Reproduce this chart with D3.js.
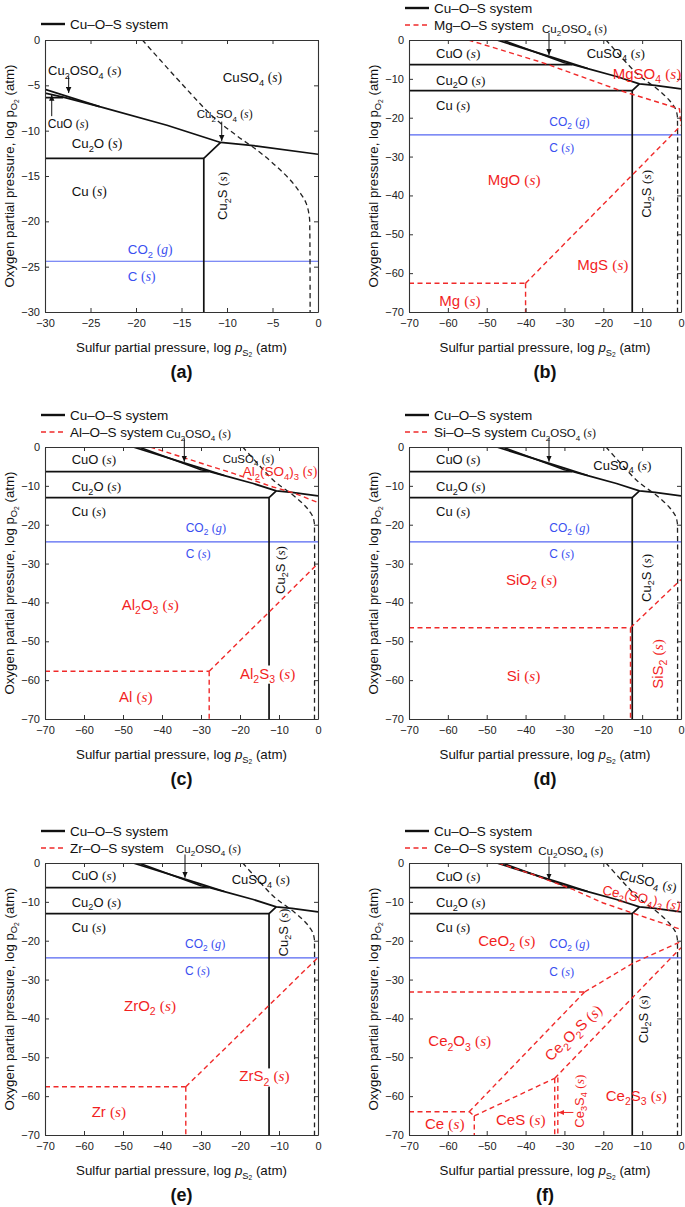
<!DOCTYPE html>
<html><head><meta charset="utf-8">
<script src="https://cdn.jsdelivr.net/npm/d3@7"></script>
<style>body{margin:0;background:#fff}</style>
</head><body>
<svg id="c" width="685" height="1207" xmlns="http://www.w3.org/2000/svg"></svg>
<script>
// ---------------- DATA (log pS2, log pO2) ----------------
const ticks30 = [-30, -25, -20, -15, -10, -5, 0];
const ticks70 = [-70, -60, -50, -40, -30, -20, -10, 0];

// Cu–O–S system
const cuSulfateBoundary = [[-47.4,0],[-30,-5.45],[-24,-7.35],[-16.6,-9.4],[-10.7,-11.3],[-6.7,-11.7],[0,-12.6]];
const cuOxysulfateBoundary = [[-46.0,0],[-30,-5.85],[-28,-6.3],[-24,-7.35]];
const cuOCu2OBoundary = [[-70,-6.35],[-28,-6.35]];
const cuCu2OBoundary = [[-70,-13.05],[-12.55,-13.05]];
const cu2SBoundary = [[-12.55,-70],[-12.55,-13.05],[-10.7,-11.3]];
const cuSO4DashedBoundary = [[-19.3,0],[-15,-4.8],[-11.5,-8.5],[-9,-10.5],[-6.5,-12.3],[-4.5,-14],[-3,-15.5],[-2,-16.8],[-1.3,-18],[-0.95,-19.5],[-0.9,-21],[-0.9,-70]];
const co2CLevel = -24.4;

// M–O–S systems (red dashed)
const mgLines = [
  [[-54.7,0],[-36,-5.7],[-15.7,-13],[-0.4,-17.7],[0,-22]],
  [[-70,-62.6],[-40,-62.6]],
  [[-40,-62.6],[-40,-70]],
  [[-40,-62.6],[0,-22]]
];
const alLines = [
  [[-43,0],[-33,-3.2],[-21.7,-6.8],[-11.5,-10.3],[-6.3,-11.8],[0,-14.3]],
  [[-70,-57.7],[-27.9,-57.7]],
  [[-27.9,-57.7],[-27.9,-70]],
  [[-27.9,-57.7],[0,-30]]
];
const siLines = [
  [[-70,-46.5],[-13.0,-46.5]],
  [[-13.0,-46.5],[-13.0,-70]],
  [[-13.0,-46.5],[0,-34.1]]
];
const zrLines = [
  [[-70,-57.6],[-33.9,-57.6]],
  [[-33.9,-57.6],[-33.9,-70]],
  [[-33.9,-57.6],[0,-24.3]]
];
const ceLines = [
  [[-47,0],[-38,-3.0],[-27.8,-6.8],[-20,-10.3],[-12.4,-12.9],[-0.3,-17]],
  [[-70,-33.2],[-24.8,-33.2]],
  [[-24.8,-33.2],[-12.4,-25.8],[0,-20.2]],
  [[-24.8,-33.2],[-54.5,-64.0]],
  [[-70,-64.0],[-54.5,-64.0],[-53.2,-65.1]],
  [[-53.2,-65.1],[-53.2,-70]],
  [[-53.2,-65.1],[-32.5,-55.4]],
  [[-32.5,-55.4],[-8.1,-30.1],[0,-21.8]],
  [[-32.5,-55.4],[-32.5,-70]],
  [[-31.7,-55.2],[-31.7,-70]]
];

// ---------------- STYLE / LAYOUT ----------------
const SANS = "'Liberation Sans', Arial, Helvetica, sans-serif";
const SERIF = "'Liberation Serif', 'Times New Roman', serif";
const COL = {k:'#111', r:'#f21f1f', b:'#3a4ff0'};
const LINE_RED = '#f02a2a', LINE_BLUE = '#5566f2';

const panels = [
 {key:'a', left:45, top:40, w:273, h:272, xDom:[-30,0], yDom:[-30,0], xT:ticks30, yT:ticks30, sys:null, sysName:null,
  labels:[
   {t:'Cu_{2}OSO_{4} [s]', x:-29.67, y:-3.39, fs:13},
   {t:'CuO [s]', x:-29.7, y:-9.19, fs:12},
   {t:'CuSO_{4} [s]', x:-10.47, y:-4.11, fs:13.3},
   {t:'Cu_{2}SO_{4} [s]', x:-13.33, y:-8.2, fs:11.5},
   {t:'Cu_{2}O [s]', x:-27.07, y:-11.39, fs:13.3},
   {t:'Cu [s]', x:-27.07, y:-16.73, fs:13.3},
   {t:'Cu_{2}S [s]', x:-10.5, y:-17.2, fs:13, rot:-90},
   {t:'CO_{2} [g]', x:-20.9, y:-23.08, fs:13.3, c:'b'},
   {t:'C [s]', x:-20.9, y:-26.1, fs:13.3, c:'b'}
  ],
  arrows:[{x1:-27.4,y1:-4.0,x2:-27.4,y2:-5.85},{x1:-29.26,y1:-8.4,x2:-29.26,y2:-6.05},{x1:-10.58,y1:-9.0,x2:-10.58,y2:-11.15}]},
 {key:'b', left:409, top:40, w:272, h:272, xDom:[-70,0], yDom:[-70,0], xT:ticks70, yT:ticks70, sys:mgLines, sysName:'Mg–O–S system',
  labels:[
   {t:'CuO [s]', x:-63.05, y:-3.42, fs:13},
   {t:'Cu_{2}O [s]', x:-63.05, y:-10.29, fs:13},
   {t:'Cu [s]', x:-63.05, y:-16.73, fs:13},
   {t:'Cu_{2}OSO_{4} [s]', x:-35.77, y:2.83, fs:11.5},
   {t:'CuSO_{4} [s]', x:-24.27, y:-3.42, fs:13},
   {t:'MgSO_{4} [s]', x:-17.58, y:-8.75, fs:15, c:'r'},
   {t:'CO_{2} [g]', x:-33.9, y:-21.02, fs:12, c:'b'},
   {t:'C [s]', x:-33.9, y:-27.87, fs:12, c:'b'},
   {t:'MgO [s]', x:-49.75, y:-36.03, fs:15, c:'r'},
   {t:'MgS [s]', x:-26.69, y:-57.9, fs:15, c:'r'},
   {t:'Mg [s]', x:-62.2, y:-67.2, fs:15, c:'r'},
   {t:'Cu_{2}S [s]', x:-9.01, y:-39.6, fs:13, rot:-90}
  ],
  arrows:[{x1:-33.97,y1:1.8,x2:-33.97,y2:-3.86}]},
 {key:'c', left:45, top:447, w:273, h:272, xDom:[-70,0], yDom:[-70,0], xT:ticks70, yT:ticks70, sys:alLines, sysName:'Al–O–S system',
  labels:[
   {t:'CuO [s]', x:-63.15, y:-3.17, fs:13},
   {t:'Cu_{2}O [s]', x:-63.15, y:-10.2, fs:13},
   {t:'Cu [s]', x:-63.15, y:-16.65, fs:13},
   {t:'Cu_{2}OSO_{4} [s]', x:-38.97, y:3.35, fs:11.5},
   {t:'CuSO_{4} [s]', x:-24.44, y:-3.09, fs:11.5},
   {t:'Al_{2}(SO_{4})_{3} [s]', x:-19.3, y:-6.36, fs:13.5, c:'r'},
   {t:'CO_{2} [g]', x:-33.92, y:-20.77, fs:12, c:'b'},
   {t:'C [s]', x:-33.92, y:-27.61, fs:12, c:'b'},
   {t:'Al_{2}O_{3} [s]', x:-50.33, y:-40.48, fs:15, c:'r'},
   {t:'Al_{2}S_{3} [s]', x:-20.0, y:-58.23, fs:15, c:'r', bg:true},
   {t:'Al [s]', x:-51.03, y:-64.26, fs:15, c:'r'},
   {t:'Cu_{2}S [s]', x:-9.74, y:-31.65, fs:13, rot:-90}
  ],
  arrows:[{x1:-34.28,y1:2.2,x2:-34.28,y2:-3.8}]},
 {key:'d', left:409, top:447, w:272, h:272, xDom:[-70,0], yDom:[-70,0], xT:ticks70, yT:ticks70, sys:siLines, sysName:'Si–O–S system',
  labels:[
   {t:'CuO [s]', x:-63.05, y:-3.17, fs:13},
   {t:'Cu_{2}O [s]', x:-63.05, y:-10.2, fs:13},
   {t:'Cu [s]', x:-63.05, y:-16.65, fs:13},
   {t:'Cu_{2}OSO_{4} [s]', x:-38.6, y:3.53, fs:11.5},
   {t:'CuSO_{4} [s]', x:-22.57, y:-4.63, fs:13},
   {t:'CO_{2} [g]', x:-33.9, y:-20.77, fs:12, c:'b'},
   {t:'C [s]', x:-33.9, y:-27.61, fs:12, c:'b'},
   {t:'SiO_{2} [s]', x:-45.04, y:-34.23, fs:15, c:'r'},
   {t:'Si [s]', x:-44.86, y:-58.93, fs:15, c:'r'},
   {t:'SiS_{2} [s]', x:-5.92, y:-55.84, fs:15, c:'r', rot:-90},
   {t:'Cu_{2}S [s]', x:-9.0, y:-33.7, fs:13, rot:-90}
  ],
  arrows:[{x1:-33.97,y1:2.3,x2:-33.97,y2:-3.78}]},
 {key:'e', left:45, top:863, w:273, h:272, xDom:[-70,0], yDom:[-70,0], xT:ticks70, yT:ticks70, sys:zrLines, sysName:'Zr–O–S system',
  labels:[
   {t:'CuO [s]', x:-63.15, y:-3.22, fs:13},
   {t:'Cu_{2}O [s]', x:-63.15, y:-10.09, fs:13},
   {t:'Cu [s]', x:-63.15, y:-16.52, fs:13},
   {t:'Cu_{2}OSO_{4} [s]', x:-36.41, y:3.65, fs:11.5},
   {t:'CuSO_{4} [s]', x:-22.13, y:-4.25, fs:13},
   {t:'CO_{2} [g]', x:-34.1, y:-20.72, fs:12, c:'b'},
   {t:'C [s]', x:-34.1, y:-27.84, fs:12, c:'b'},
   {t:'ZrO_{2} [s]', x:-49.74, y:-36.67, fs:15, c:'r'},
   {t:'ZrS_{2} [s]', x:-20.18, y:-54.86, fs:15, c:'r', bg:true},
   {t:'Zr [s]', x:-58.03, y:-64.13, fs:15, c:'r'},
   {t:'Cu_{2}S [s]', x:-8.97, y:-17.88, fs:13, rot:-90}
  ],
  arrows:[{x1:-34.1,y1:2.19,x2:-34.1,y2:-3.81}]},
 {key:'f', left:409, top:863, w:272, h:272, xDom:[-70,0], yDom:[-70,0], xT:ticks70, yT:ticks70, sys:ceLines, sysName:'Ce–O–S system',
  labels:[
   {t:'CuO [s]', x:-63.05, y:-3.4, fs:13},
   {t:'Cu_{2}O [s]', x:-63.05, y:-10.24, fs:13},
   {t:'Cu [s]', x:-63.05, y:-16.67, fs:13},
   {t:'Cu_{2}OSO_{4} [s]', x:-36.73, y:3.22, fs:11.5},
   {t:'CuSO_{4} [s]', x:-8.42, y:-4.68, fs:13, rot:13},
   {t:'Ce_{2}(SO_{4})_{3} [s]', x:-10.12, y:-8.96, fs:13.5, c:'r', rot:12},
   {t:'CeO_{2} [s]', x:-52.17, y:-20.12, fs:15, c:'r'},
   {t:'CO_{2} [g]', x:-33.9, y:-20.72, fs:12, c:'b'},
   {t:'C [s]', x:-33.9, y:-27.99, fs:12, c:'b'},
   {t:'Ce_{2}O_{3} [s]', x:-65.03, y:-45.86, fs:15, c:'r'},
   {t:'Ce_{2}O_{2}S [s]', x:-27.72, y:-43.7, fs:15, c:'r', rot:-44},
   {t:'Ce [s]', x:-65.88, y:-67.04, fs:15, c:'r'},
   {t:'CeS [s]', x:-47.61, y:-66.0, fs:15, c:'r'},
   {t:'Ce_{2}S_{3} [s]', x:-19.38, y:-59.83, fs:15, c:'r'},
   {t:'Ce_{3}S_{4} [s]', x:-26.25, y:-61.3, fs:13, c:'r', rot:-90},
   {t:'Cu_{2}S [s]', x:-9.78, y:-40.2, fs:13, rot:-90}
  ],
  arrows:[{x1:-33.97,y1:1.67,x2:-33.97,y2:-4.25},{x1:-27.7,y1:-64.2,x2:-31.55,y2:-64.2,red:true}]}
];

// ---------------- RENDER ----------------
const svg = d3.select('#c');
const defs = svg.append('defs');
function marker(id, color){
  defs.append('marker').attr('id',id).attr('viewBox','0 0 10 10').attr('refX',10).attr('refY',5)
    .attr('markerWidth',6).attr('markerHeight',6).attr('markerUnits','userSpaceOnUse').attr('orient','auto')
    .append('path').attr('d','M0,0.5 L10,5 L0,9.5 z').attr('fill',color);
}
marker('arrK','#111'); marker('arrR', LINE_RED);

function rich(textSel, markup, fs){
  const re = /_\{([^}]*)\}|\[([a-z])\]|([^_\[]+)/g;
  let m, shifted = false;
  const sub = fs*0.28;
  while ((m = re.exec(markup))){
    if (m[1] !== undefined){
      textSel.append('tspan').attr('font-size', fs*0.7).attr('dy', shifted ? 0 : sub).text(m[1]);
      shifted = true;
    } else {
      const back = shifted ? -sub : 0; shifted = false;
      if (m[2] !== undefined){
        textSel.append('tspan').attr('dy', back).attr('font-family', SERIF).attr('font-size', fs*1.02).text('(');
        textSel.append('tspan').attr('font-family', SERIF).attr('font-style','italic').attr('font-size', fs*1.02).text(m[2]);
        textSel.append('tspan').attr('font-family', SERIF).attr('font-size', fs*1.02).text(')');
      } else {
        textSel.append('tspan').attr('dy', back).text(m[3]);
      }
    }
  }
}

const panelLetters = {a:'(a)',b:'(b)',c:'(c)',d:'(d)',e:'(e)',f:'(f)'};

panels.forEach(p => {
  const x = d3.scaleLinear().domain(p.xDom).range([p.left, p.left + p.w]);
  const y = d3.scaleLinear().domain(p.yDom).range([p.top + p.h, p.top]);
  const g = svg.append('g');
  const clipId = 'clip-' + p.key;
  defs.append('clipPath').attr('id', clipId).append('rect')
    .attr('x', p.left).attr('y', p.top).attr('width', p.w).attr('height', p.h);
  const plot = g.append('g').attr('clip-path', `url(#${clipId})`);
  const line = d3.line().x(d => x(d[0])).y(d => y(d[1]));
  const curve = d3.line().x(d => x(d[0])).y(d => y(d[1])).curve(d3.curveCatmullRom.alpha(0.5));

  // CO2 / C line
  plot.append('path').attr('d', line([[p.xDom[0], co2CLevel],[p.xDom[1], co2CLevel]]))
    .attr('stroke', LINE_BLUE).attr('stroke-width', 1.2).attr('fill','none');
  // Cu system solid
  [cuSulfateBoundary, cuOxysulfateBoundary, cuOCu2OBoundary, cuCu2OBoundary, cu2SBoundary].forEach(d => {
    plot.append('path').attr('d', line(d)).attr('stroke','#111').attr('stroke-width',1.7)
      .attr('fill','none').attr('stroke-linejoin','round');
  });
  // Cu dashed
  plot.append('path').attr('d', curve(cuSO4DashedBoundary)).attr('stroke','#222').attr('stroke-width',1.3)
    .attr('stroke-dasharray','5,3.5').attr('fill','none');
  // M-O-S system
  if (p.sys){
    p.sys.forEach(d => {
      plot.append('path').attr('d', line(d)).attr('stroke', LINE_RED).attr('stroke-width',1.4)
        .attr('stroke-dasharray','5,3.5').attr('fill','none');
    });
  }

  // axes (inward ticks on all sides)
  const axStyle = s => {
    s.selectAll('.domain').attr('stroke','#333').attr('stroke-width',1.1);
    s.selectAll('.tick line').attr('stroke','#333');
    s.selectAll('text').attr('font-family', SANS).attr('font-size', 11).attr('fill','#222');
  };
  g.append('g').attr('transform',`translate(0,${p.top + p.h})`)
    .call(d3.axisBottom(x).tickValues(p.xT).tickSize(-4).tickSizeOuter(0).tickPadding(7)).call(axStyle);
  g.append('g').attr('transform',`translate(0,${p.top})`)
    .call(d3.axisTop(x).tickValues(p.xT).tickSize(-4).tickSizeOuter(0).tickFormat('')).call(axStyle);
  g.append('g').attr('transform',`translate(${p.left},0)`)
    .call(d3.axisLeft(y).tickValues(p.yT).tickSize(-4).tickSizeOuter(0).tickPadding(5)).call(axStyle);
  g.append('g').attr('transform',`translate(${p.left + p.w},0)`)
    .call(d3.axisRight(y).tickValues(p.yT).tickSize(-4).tickSizeOuter(0).tickFormat('')).call(axStyle);

  // axis titles
  const afs = 13.3;
  const xt = g.append('text').attr('x', p.left + p.w/2).attr('y', p.top + p.h + 40)
    .attr('text-anchor','middle').attr('font-family', SANS).attr('font-size', afs).attr('fill','#111');
  xt.append('tspan').text('Sulfur partial pressure, log ');
  xt.append('tspan').attr('font-style','italic').text('p');
  xt.append('tspan').attr('font-size', afs*0.7).attr('dy', afs*0.28).text('S');
  xt.append('tspan').attr('font-size', afs*0.5).attr('dy', afs*0.12).text('2');
  xt.append('tspan').attr('dy', -afs*0.4).text(' (atm)');

  const cy = p.top + p.h/2, bx = p.left - 36 + afs*0.35;
  const yt = g.append('text').attr('transform',`translate(${bx},${cy}) rotate(-90)`)
    .attr('text-anchor','middle').attr('font-family', SANS).attr('font-size', afs).attr('fill','#111');
  yt.append('tspan').text('Oxygen partial pressure, log p');
  yt.append('tspan').attr('font-size', afs*0.7).attr('dy', afs*0.28).text('O');
  yt.append('tspan').attr('font-size', afs*0.5).attr('dy', afs*0.12).text('2');
  yt.append('tspan').attr('dy', -afs*0.4).text(' (atm)');

  // panel letter
  g.append('text').attr('x', p.left + p.w/2).attr('y', p.top + p.h + 66).attr('text-anchor','middle')
    .attr('font-family', SANS).attr('font-weight','bold').attr('font-size', 18).attr('fill','#111')
    .text(panelLetters[p.key]);

  // legend
  const entries = [{name:'Cu–O–S system', kind:'cu'}];
  if (p.sysName) entries.push({name:p.sysName, kind:'red'});
  const ys = entries.length === 2 ? [p.top - 32, p.top - 15] : [p.top - 16];
  entries.forEach((e, i) => {
    const ly = ys[i];
    g.append('line').attr('x1', p.left - 4).attr('x2', p.left + 20).attr('y1', ly).attr('y2', ly)
      .attr('stroke', e.kind === 'cu' ? '#111' : LINE_RED)
      .attr('stroke-width', e.kind === 'cu' ? 2.4 : 1.5)
      .attr('stroke-dasharray', e.kind === 'cu' ? null : '5,3.5');
    g.append('text').attr('x', p.left + 25).attr('y', ly + 13.5*0.36).attr('font-family', SANS)
      .attr('font-size', 13.5).attr('fill','#111').text(e.name);
  });

  // arrows
  p.arrows.forEach(a => {
    g.append('line').attr('x1', x(a.x1)).attr('y1', y(a.y1)).attr('x2', x(a.x2)).attr('y2', y(a.y2))
      .attr('stroke', a.red ? LINE_RED : '#111').attr('stroke-width', 1)
      .attr('marker-end', a.red ? 'url(#arrR)' : 'url(#arrK)');
  });

  // labels
  p.labels.forEach(L => {
    const color = COL[L.c || 'k'];
    const px = x(L.x), py = y(L.y);
    const t = g.append('text').attr('font-family', SANS).attr('font-size', L.fs).attr('fill', color);
    if (L.rot !== undefined){
      t.attr('text-anchor','middle').attr('x', 0).attr('y', L.fs*0.35)
        .attr('transform', `translate(${px},${py}) rotate(${L.rot})`);
    } else {
      t.attr('x', px).attr('y', py + L.fs*0.35);
    }
    rich(t, L.t, L.fs);
    if (L.bg){
      const bb = t.node().getBBox();
      g.insert('rect', () => t.node()).attr('x', bb.x - 1).attr('y', bb.y + 1)
        .attr('width', bb.width + 2).attr('height', bb.height - 2).attr('fill','#fff');
    }
  });
});
</script>
</body></html>
